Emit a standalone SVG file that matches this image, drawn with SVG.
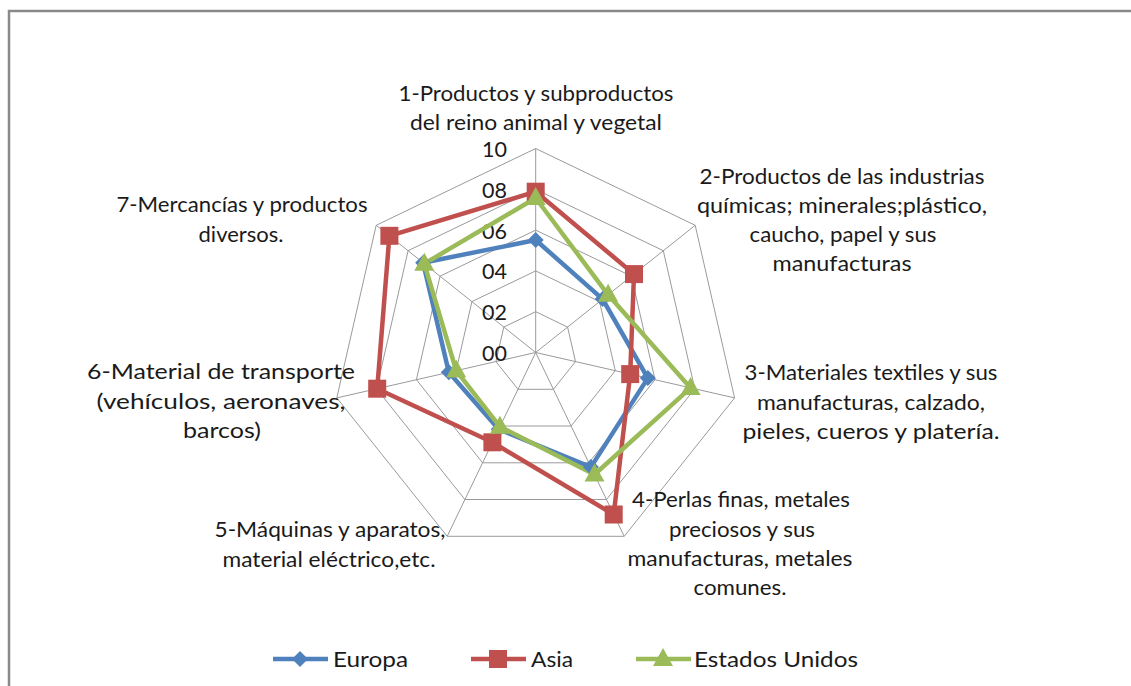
<svg xmlns="http://www.w3.org/2000/svg" width="1131" height="686" viewBox="0 0 1131 686">
<style>
.lbl{font-family:Lato,"Liberation Sans",Arial,sans-serif;font-size:22px;fill:#1a1a1a;text-anchor:middle}
.ax{font-family:Lato,"Liberation Sans",Arial,sans-serif;font-size:21px;fill:#1a1a1a;text-anchor:end}
.leg{font-family:Lato,"Liberation Sans",Arial,sans-serif;font-size:22px;fill:#1a1a1a}
.grid{fill:none;stroke:#9a9a9a;stroke-width:1}
.s{fill:none;stroke-width:4.5;stroke-linejoin:round}
.eu{stroke:#4F81BD}.as{stroke:#C0504D}.us{stroke:#9BBB59}
</style>
<defs>
<path id="dia" d="M0,-8 L8,0 L0,8 L-8,0Z" fill="#4F81BD"/>
<rect id="sq" x="-9" y="-9" width="18" height="18" fill="#C0504D"/>
<path id="tri" d="M0,-11 L10,7 L-10,7Z" fill="#9BBB59"/>
</defs>
<rect x="0" y="0" width="1131" height="686" fill="#fff"/>
<rect x="9" y="11" width="1140" height="700" fill="none" stroke="#8a8a8a" stroke-width="2.5"/>

<g id="grid">
<polygon class="grid" points="535.7,148.5 695.2,225.3 734.6,397.9 624.2,536.3 447.2,536.3 336.8,397.9 376.2,225.3"/>
<polygon class="grid" points="535.7,189.3 663.3,250.7 694.8,388.8 606.5,499.5 464.9,499.5 376.6,388.8 408.1,250.7"/>
<polygon class="grid" points="535.7,230.1 631.4,276.2 655.0,379.7 588.8,462.8 482.6,462.8 416.4,379.7 440.0,276.2"/>
<polygon class="grid" points="535.7,270.9 599.5,301.6 615.3,370.7 571.1,426.0 500.3,426.0 456.1,370.7 471.9,301.6"/>
<polygon class="grid" points="535.7,311.7 567.6,327.1 575.5,361.6 553.4,389.3 518.0,389.3 495.9,361.6 503.8,327.1"/>
<path class="grid" d="M535.7,352.5L535.7,148.5M535.7,352.5L695.2,225.3M535.7,352.5L734.6,397.9M535.7,352.5L624.2,536.3M535.7,352.5L447.2,536.3M535.7,352.5L336.8,397.9M535.7,352.5L376.2,225.3"/>
</g>

<g id="axis-values">
<text class="ax" x="507" y="157" textLength="25" lengthAdjust="spacingAndGlyphs">10</text>
<text class="ax" x="507" y="198" textLength="25" lengthAdjust="spacingAndGlyphs">08</text>
<text class="ax" x="507" y="239" textLength="25" lengthAdjust="spacingAndGlyphs">06</text>
<text class="ax" x="507" y="279" textLength="25" lengthAdjust="spacingAndGlyphs">04</text>
<text class="ax" x="507" y="320" textLength="25" lengthAdjust="spacingAndGlyphs">02</text>
<text class="ax" x="507" y="361" textLength="25" lengthAdjust="spacingAndGlyphs">00</text>
</g>

<g id="connectors">
<polygon class="s eu" points="535.7,240.0 602.6,299.1 647.8,378.1 590.9,467.1 498.7,429.3 448.8,372.3 423.1,262.7"/>
<polygon class="s as" points="535.7,191.7 634.0,274.1 630.2,374.1 613.7,514.5 492.4,442.3 377.2,388.7 389.4,235.8"/>
<polygon class="s us" points="535.7,198.0 608.1,294.8 690.6,387.9 594.5,474.5 499.9,426.7 456.2,370.6 424.3,263.7"/>
</g>

<g id="series-europa">
<use href="#dia" x="535.7" y="240.0"/><use href="#dia" x="602.6" y="299.1"/><use href="#dia" x="647.8" y="378.1"/><use href="#dia" x="590.9" y="467.1"/><use href="#dia" x="498.7" y="429.3"/><use href="#dia" x="448.8" y="372.3"/><use href="#dia" x="423.1" y="262.7"/>
</g>
<g id="series-asia">
<use href="#sq" x="535.7" y="191.7"/><use href="#sq" x="634.0" y="274.1"/><use href="#sq" x="630.2" y="374.1"/><use href="#sq" x="613.7" y="514.5"/><use href="#sq" x="492.4" y="442.3"/><use href="#sq" x="377.2" y="388.7"/><use href="#sq" x="389.4" y="235.8"/>
</g>
<g id="series-us">
<use href="#tri" x="535.7" y="198.0"/><use href="#tri" x="608.1" y="294.8"/><use href="#tri" x="690.6" y="387.9"/><use href="#tri" x="594.5" y="474.5"/><use href="#tri" x="499.9" y="426.7"/><use href="#tri" x="456.2" y="370.6"/><use href="#tri" x="424.3" y="263.7"/>
</g>

<g id="label-1">
<text class="lbl" x="536" y="101" textLength="275" lengthAdjust="spacingAndGlyphs">1-Productos y subproductos</text>
<text class="lbl" x="536" y="130" textLength="252" lengthAdjust="spacingAndGlyphs">del reino animal y vegetal</text>
</g>
<g id="label-2">
<text class="lbl" x="842" y="184" textLength="285" lengthAdjust="spacingAndGlyphs">2-Productos de las industrias</text>
<text class="lbl" x="842" y="213" textLength="290" lengthAdjust="spacingAndGlyphs">químicas; minerales;plástico,</text>
<text class="lbl" x="843" y="242" textLength="187" lengthAdjust="spacingAndGlyphs">caucho, papel y sus</text>
<text class="lbl" x="842" y="271" textLength="139" lengthAdjust="spacingAndGlyphs">manufacturas</text>
</g>
<g id="label-3">
<text class="lbl" x="871" y="380" textLength="253" lengthAdjust="spacingAndGlyphs">3-Materiales textiles y sus</text>
<text class="lbl" x="871" y="410" textLength="228" lengthAdjust="spacingAndGlyphs">manufacturas, calzado,</text>
<text class="lbl" x="871" y="439" textLength="257" lengthAdjust="spacingAndGlyphs">pieles, cueros y platería.</text>
</g>
<g id="label-4">
<text class="lbl" x="741" y="507" textLength="218" lengthAdjust="spacingAndGlyphs">4-Perlas finas, metales</text>
<text class="lbl" x="742" y="537" textLength="146" lengthAdjust="spacingAndGlyphs">preciosos y sus</text>
<text class="lbl" x="740" y="566" textLength="225" lengthAdjust="spacingAndGlyphs">manufacturas, metales</text>
<text class="lbl" x="740" y="595" textLength="93" lengthAdjust="spacingAndGlyphs">comunes.</text>
</g>
<g id="label-5">
<text class="lbl" x="330" y="537" textLength="231" lengthAdjust="spacingAndGlyphs">5-Máquinas y aparatos,</text>
<text class="lbl" x="329" y="567" textLength="213" lengthAdjust="spacingAndGlyphs">material eléctrico,etc.</text>
</g>
<g id="label-6">
<text class="lbl" x="221" y="379" textLength="268" lengthAdjust="spacingAndGlyphs">6-Material de transporte</text>
<text class="lbl" x="221" y="409" textLength="249" lengthAdjust="spacingAndGlyphs">(vehículos, aeronaves,</text>
<text class="lbl" x="222" y="438" textLength="78" lengthAdjust="spacingAndGlyphs">barcos)</text>
</g>
<g id="label-7">
<text class="lbl" x="242" y="212" textLength="251" lengthAdjust="spacingAndGlyphs">7-Mercancías y productos</text>
<text class="lbl" x="241" y="242">diversos.</text>
</g>

<g id="legend">
<line class="s eu" x1="273" y1="659" x2="328" y2="659"/><use href="#dia" x="300" y="659"/>
<text class="leg" x="333" y="667" textLength="75" lengthAdjust="spacingAndGlyphs">Europa</text>
<line class="s as" x1="471" y1="659" x2="526" y2="659"/><use href="#sq" x="498" y="659"/>
<text class="leg" x="531" y="667" textLength="42" lengthAdjust="spacingAndGlyphs">Asia</text>
<line class="s us" x1="636" y1="659" x2="691" y2="659"/><use href="#tri" x="663" y="659"/>
<text class="leg" x="694" y="667" textLength="164" lengthAdjust="spacingAndGlyphs">Estados Unidos</text>
</g>
</svg>
